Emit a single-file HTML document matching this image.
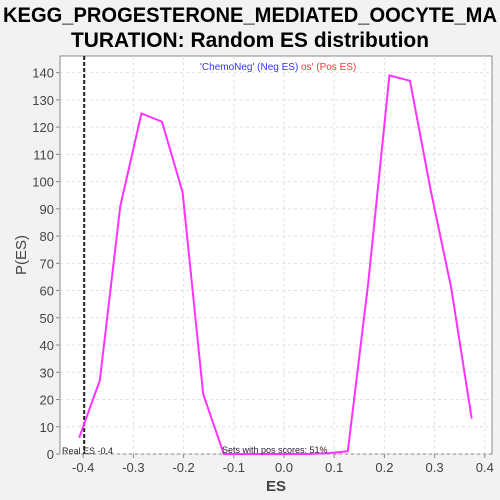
<!DOCTYPE html>
<html><head><meta charset="utf-8"><style>
html,body{margin:0;padding:0;background:#f2f2f2;}
svg{display:block;font-family:"Liberation Sans","DejaVu Sans",sans-serif;}
</style></head><body>
<svg id="chart" width="500" height="500" viewBox="0 0 500 500">
<rect x="0" y="0" width="500" height="500" fill="#f2f2f2"/>
<text x="250" y="22" text-anchor="middle" font-size="21" font-weight="bold" textLength="494" lengthAdjust="spacingAndGlyphs">KEGG_PROGESTERONE_MEDIATED_OOCYTE_MA</text>
<text x="250" y="47" text-anchor="middle" font-size="21" font-weight="bold" textLength="358" lengthAdjust="spacingAndGlyphs">TURATION: Random ES distribution</text>
<rect x="60" y="56" width="432" height="398" fill="#ffffff" stroke="#888"/>
<g id="grid"></g>
<g id="axes"></g>
<g id="marks"></g>
<text x="200" y="70" font-size="10" fill="#3333ff">'ChemoNeg' (Neg ES)</text>
<text x="301" y="70" font-size="10" fill="#ff3333">os' (Pos ES)</text>
<text x="62" y="454" font-size="9" fill="#222">Real ES -0.4</text>
<text x="222" y="453" font-size="9" fill="#222">Sets with pos scores: 51%</text>
<text x="276" y="491" text-anchor="middle" font-size="15" font-weight="bold" fill="#444">ES</text>
<text x="26" y="255" text-anchor="middle" font-size="15" fill="#444" transform="rotate(-90 26 255)">P(ES)</text>
</svg>
<script>
const xs = [-0.408,-0.367,-0.326,-0.284,-0.243,-0.202,-0.161,-0.120,-0.079,-0.037,0.004,0.045,0.086,0.127,0.168,0.210,0.251,0.292,0.333,0.374];
const ys = [6,27,91,125,122,96,22,0,0,0,0,0,0.3,1,63,139,137,97,61,13];
const xTicks = [-0.4,-0.3,-0.2,-0.1,0.0,0.1,0.2,0.3,0.4];
const xTickLabels = ["-0.4","-0.3","-0.2","-0.1","0.0","0.1","0.2","0.3","0.4"];
const yTicks = [0,10,20,30,40,50,60,70,80,90,100,110,120,130,140];
const realES = -0.398;
const NS='http://www.w3.org/2000/svg';
function X(v){return 284+v*502;}
function Y(v){return 454-v*2.724;}
function mk(tag,attrs,parent){const e=document.createElementNS(NS,tag);for(const k in attrs)e.setAttribute(k,attrs[k]);parent.appendChild(e);return e;}
const grid=document.getElementById('grid'),axes=document.getElementById('axes'),marks=document.getElementById('marks');
xTicks.forEach((t,i)=>{
  const g=mk('line',{x1:X(t),x2:X(t),y1:56,y2:454,stroke:'#e0e0e0','stroke-dasharray':'3,3'},grid);
  
  
  const tk=mk('line',{x1:X(t),x2:X(t),y1:454,y2:458,stroke:'#888'},axes);
  
  
  const tx=mk('text',{x:X(t),y:472,'text-anchor':'middle','font-size':13,fill:'#444'},axes);
  tx.textContent=xTickLabels[i];
  
  
});
yTicks.forEach(t=>{
  const g=mk('line',{x1:60,x2:492,y1:Y(t),y2:Y(t),stroke:'#e0e0e0','stroke-dasharray':'3,3'},grid);
  
  
  const tk=mk('line',{x1:56,x2:60,y1:Y(t),y2:Y(t),stroke:'#888'},axes);
  
  
  const tx=mk('text',{x:54,y:Y(t)+5,'text-anchor':'end','font-size':13,fill:'#444'},axes);
  tx.textContent=String(t);
  
  
});
const rl=mk('line',{x1:X(realES),x2:X(realES),y1:56,y2:454,stroke:'#222','stroke-width':2,'stroke-dasharray':'4,2'},marks);


const pts=xs.map((v,i)=>X(v).toFixed(1)+','+Y(ys[i]).toFixed(1)).join(' ');
const pl=mk('polyline',{points:pts,fill:'none',stroke:'#ff33ff','stroke-width':2},marks);


</script>
</body></html>
